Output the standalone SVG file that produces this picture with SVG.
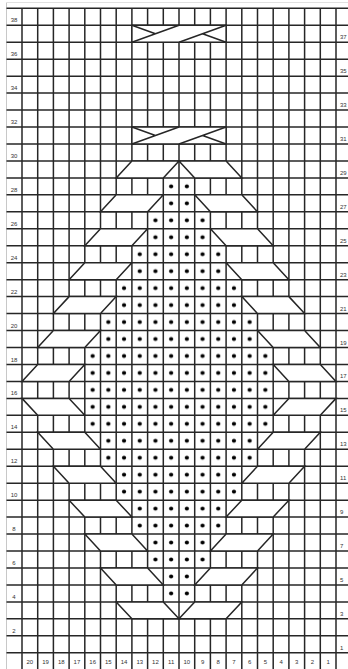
<svg xmlns="http://www.w3.org/2000/svg" width="348" height="669" viewBox="0 0 348 669">
<style>
.g line{stroke:#262626;stroke-width:1.5}
.band{fill:#fff;stroke:#262626;stroke-width:1.5;stroke-linejoin:miter}
.cx{fill:none;stroke:#262626;stroke-width:1.4}
.lbl{font-family:"Liberation Sans",Arial,sans-serif;font-size:6px;fill:#333}
.mid{text-anchor:middle}
</style>
<defs>
<pattern id="dots" patternUnits="userSpaceOnUse" x="22" y="8.3" width="15.7" height="16.96">
<circle cx="7.85" cy="8.48" r="2.05" fill="#000"/>
</pattern>
</defs>
<rect width="348" height="669" fill="#fff"/>
<line x1="6.5" y1="2.5" x2="6.5" y2="669" stroke="#c8c8c8" stroke-width="1"/>
<line x1="6.5" y1="2.5" x2="348" y2="2.5" stroke="#e0e0e0" stroke-width="1"/>
<g id="grid" class="g">
<line x1="22" y1="8.3" x2="22" y2="669"/>
<line x1="37.7" y1="8.3" x2="37.7" y2="669"/>
<line x1="53.4" y1="8.3" x2="53.4" y2="669"/>
<line x1="69.1" y1="8.3" x2="69.1" y2="669"/>
<line x1="84.8" y1="8.3" x2="84.8" y2="669"/>
<line x1="100.5" y1="8.3" x2="100.5" y2="669"/>
<line x1="116.2" y1="8.3" x2="116.2" y2="669"/>
<line x1="131.9" y1="8.3" x2="131.9" y2="669"/>
<line x1="147.6" y1="8.3" x2="147.6" y2="669"/>
<line x1="163.3" y1="8.3" x2="163.3" y2="669"/>
<line x1="179" y1="8.3" x2="179" y2="669"/>
<line x1="194.7" y1="8.3" x2="194.7" y2="669"/>
<line x1="210.4" y1="8.3" x2="210.4" y2="669"/>
<line x1="226.1" y1="8.3" x2="226.1" y2="669"/>
<line x1="241.8" y1="8.3" x2="241.8" y2="669"/>
<line x1="257.5" y1="8.3" x2="257.5" y2="669"/>
<line x1="273.2" y1="8.3" x2="273.2" y2="669"/>
<line x1="288.9" y1="8.3" x2="288.9" y2="669"/>
<line x1="304.6" y1="8.3" x2="304.6" y2="669"/>
<line x1="320.3" y1="8.3" x2="320.3" y2="669"/>
<line x1="336" y1="8.3" x2="336" y2="669"/>
<line x1="6.5" y1="8.3" x2="348" y2="8.3"/>
<line x1="6.5" y1="25.26" x2="348" y2="25.26"/>
<line x1="6.5" y1="42.22" x2="348" y2="42.22"/>
<line x1="6.5" y1="59.18" x2="348" y2="59.18"/>
<line x1="6.5" y1="76.14" x2="348" y2="76.14"/>
<line x1="6.5" y1="93.1" x2="348" y2="93.1"/>
<line x1="6.5" y1="110.06" x2="348" y2="110.06"/>
<line x1="6.5" y1="127.02" x2="348" y2="127.02"/>
<line x1="6.5" y1="143.98" x2="348" y2="143.98"/>
<line x1="6.5" y1="160.94" x2="348" y2="160.94"/>
<line x1="6.5" y1="177.9" x2="348" y2="177.9"/>
<line x1="6.5" y1="194.86" x2="348" y2="194.86"/>
<line x1="6.5" y1="211.82" x2="348" y2="211.82"/>
<line x1="6.5" y1="228.78" x2="348" y2="228.78"/>
<line x1="6.5" y1="245.74" x2="348" y2="245.74"/>
<line x1="6.5" y1="262.7" x2="348" y2="262.7"/>
<line x1="6.5" y1="279.66" x2="348" y2="279.66"/>
<line x1="6.5" y1="296.62" x2="348" y2="296.62"/>
<line x1="6.5" y1="313.58" x2="348" y2="313.58"/>
<line x1="6.5" y1="330.54" x2="348" y2="330.54"/>
<line x1="6.5" y1="347.5" x2="348" y2="347.5"/>
<line x1="6.5" y1="364.46" x2="348" y2="364.46"/>
<line x1="6.5" y1="381.42" x2="348" y2="381.42"/>
<line x1="6.5" y1="398.38" x2="348" y2="398.38"/>
<line x1="6.5" y1="415.34" x2="348" y2="415.34"/>
<line x1="6.5" y1="432.3" x2="348" y2="432.3"/>
<line x1="6.5" y1="449.26" x2="348" y2="449.26"/>
<line x1="6.5" y1="466.22" x2="348" y2="466.22"/>
<line x1="6.5" y1="483.18" x2="348" y2="483.18"/>
<line x1="6.5" y1="500.14" x2="348" y2="500.14"/>
<line x1="6.5" y1="517.1" x2="348" y2="517.1"/>
<line x1="6.5" y1="534.06" x2="348" y2="534.06"/>
<line x1="6.5" y1="551.02" x2="348" y2="551.02"/>
<line x1="6.5" y1="567.98" x2="348" y2="567.98"/>
<line x1="6.5" y1="584.94" x2="348" y2="584.94"/>
<line x1="6.5" y1="601.9" x2="348" y2="601.9"/>
<line x1="6.5" y1="618.86" x2="348" y2="618.86"/>
<line x1="6.5" y1="635.82" x2="348" y2="635.82"/>
<line x1="6.5" y1="652.78" x2="348" y2="652.78"/>
</g>
<path id="dot-area" fill="url(#dots)" d="M163.3,177.9 H194.7 V211.82 H210.4 V245.74 H226.1 V279.66 H241.8 V313.58 H257.5 V347.5 H273.2 V432.3 H257.5 V466.22 H241.8 V500.14 H226.1 V534.06 H210.4 V567.98 H194.7 V601.9 H163.3 V567.98 H147.6 V534.06 H131.9 V500.14 H116.2 V466.22 H100.5 V432.3 H84.8 V347.5 H100.5 V313.58 H116.2 V279.66 H131.9 V245.74 H147.6 V211.82 H163.3 Z"/>
<g id="bands-upper">
<polygon class="band" points="116.2,177.9 163.3,177.9 179,160.94 131.9,160.94"/>
<polygon class="band" points="179,160.94 226.1,160.94 241.8,177.9 194.7,177.9"/>
<polygon class="band" points="100.5,211.82 147.6,211.82 163.3,194.86 116.2,194.86"/>
<polygon class="band" points="194.7,194.86 241.8,194.86 257.5,211.82 210.4,211.82"/>
<polygon class="band" points="84.8,245.74 131.9,245.74 147.6,228.78 100.5,228.78"/>
<polygon class="band" points="210.4,228.78 257.5,228.78 273.2,245.74 226.1,245.74"/>
<polygon class="band" points="69.1,279.66 116.2,279.66 131.9,262.7 84.8,262.7"/>
<polygon class="band" points="226.1,262.7 273.2,262.7 288.9,279.66 241.8,279.66"/>
<polygon class="band" points="53.4,313.58 100.5,313.58 116.2,296.62 69.1,296.62"/>
<polygon class="band" points="241.8,296.62 288.9,296.62 304.6,313.58 257.5,313.58"/>
<polygon class="band" points="37.7,347.5 84.8,347.5 100.5,330.54 53.4,330.54"/>
<polygon class="band" points="257.5,330.54 304.6,330.54 320.3,347.5 273.2,347.5"/>
<polygon class="band" points="22,381.42 69.1,381.42 84.8,364.46 37.7,364.46"/>
<polygon class="band" points="273.2,364.46 320.3,364.46 336,381.42 288.9,381.42"/>
</g>
<g id="bands-lower">
<polygon class="band" points="22,398.38 69.1,398.38 84.8,415.34 37.7,415.34"/>
<polygon class="band" points="273.2,415.34 320.3,415.34 336,398.38 288.9,398.38"/>
<polygon class="band" points="37.7,432.3 84.8,432.3 100.5,449.26 53.4,449.26"/>
<polygon class="band" points="257.5,449.26 304.6,449.26 320.3,432.3 273.2,432.3"/>
<polygon class="band" points="53.4,466.22 100.5,466.22 116.2,483.18 69.1,483.18"/>
<polygon class="band" points="241.8,483.18 288.9,483.18 304.6,466.22 257.5,466.22"/>
<polygon class="band" points="69.1,500.14 116.2,500.14 131.9,517.1 84.8,517.1"/>
<polygon class="band" points="226.1,517.1 273.2,517.1 288.9,500.14 241.8,500.14"/>
<polygon class="band" points="84.8,534.06 131.9,534.06 147.6,551.02 100.5,551.02"/>
<polygon class="band" points="210.4,551.02 257.5,551.02 273.2,534.06 226.1,534.06"/>
<polygon class="band" points="100.5,567.98 147.6,567.98 163.3,584.94 116.2,584.94"/>
<polygon class="band" points="194.7,584.94 241.8,584.94 257.5,567.98 210.4,567.98"/>
<polygon class="band" points="116.2,601.9 163.3,601.9 179,618.86 131.9,618.86"/>
<polygon class="band" points="179,618.86 226.1,618.86 241.8,601.9 194.7,601.9"/>
</g>
<g id="cable-37">
<rect class="band" x="131.9" y="25.26" width="94.2" height="16.96"/>
<path class="cx" d="M131.9,42.22 L179,25.26 M131.9,25.26 L155.45,33.74 M179,42.22 L226.1,25.26 M202.55,33.74 L226.1,42.22"/>
</g>
<g id="cable-31">
<rect class="band" x="131.9" y="127.02" width="94.2" height="16.96"/>
<path class="cx" d="M131.9,143.98 L179,127.02 M131.9,127.02 L155.45,135.5 M179,143.98 L226.1,127.02 M202.55,135.5 L226.1,143.98"/>
</g>
<g id="row-labels-left" class="lbl mid">
<text x="14" y="22.3">38</text>
<text x="14" y="56.2">36</text>
<text x="14" y="90.1">34</text>
<text x="14" y="124">32</text>
<text x="14" y="157.9">30</text>
<text x="14" y="191.9">28</text>
<text x="14" y="225.8">26</text>
<text x="14" y="259.7">24</text>
<text x="14" y="293.6">22</text>
<text x="14" y="327.5">20</text>
<text x="14" y="361.5">18</text>
<text x="14" y="395.4">16</text>
<text x="14" y="429.3">14</text>
<text x="14" y="463.2">12</text>
<text x="14" y="497.1">10</text>
<text x="14" y="531.1">8</text>
<text x="14" y="565">6</text>
<text x="14" y="598.9">4</text>
<text x="14" y="632.8">2</text>
</g>
<g id="row-labels-right" class="lbl">
<text x="340" y="39.2">37</text>
<text x="340" y="73.1">35</text>
<text x="340" y="107">33</text>
<text x="340" y="141">31</text>
<text x="340" y="174.9">29</text>
<text x="340" y="208.8">27</text>
<text x="340" y="242.7">25</text>
<text x="340" y="276.7">23</text>
<text x="340" y="310.6">21</text>
<text x="340" y="344.5">19</text>
<text x="340" y="378.4">17</text>
<text x="340" y="412.3">15</text>
<text x="340" y="446.3">13</text>
<text x="340" y="480.2">11</text>
<text x="340" y="514.1">9</text>
<text x="340" y="548">7</text>
<text x="340" y="581.9">5</text>
<text x="340" y="615.9">3</text>
<text x="340" y="649.8">1</text>
</g>
<g id="col-labels" class="lbl mid">
<text x="29.85" y="664">20</text>
<text x="45.55" y="664">19</text>
<text x="61.25" y="664">18</text>
<text x="76.95" y="664">17</text>
<text x="92.65" y="664">16</text>
<text x="108.35" y="664">15</text>
<text x="124.05" y="664">14</text>
<text x="139.75" y="664">13</text>
<text x="155.45" y="664">12</text>
<text x="171.15" y="664">11</text>
<text x="186.85" y="664">10</text>
<text x="202.55" y="664">9</text>
<text x="218.25" y="664">8</text>
<text x="233.95" y="664">7</text>
<text x="249.65" y="664">6</text>
<text x="265.35" y="664">5</text>
<text x="281.05" y="664">4</text>
<text x="296.75" y="664">3</text>
<text x="312.45" y="664">2</text>
<text x="328.15" y="664">1</text>
</g>
</svg>
